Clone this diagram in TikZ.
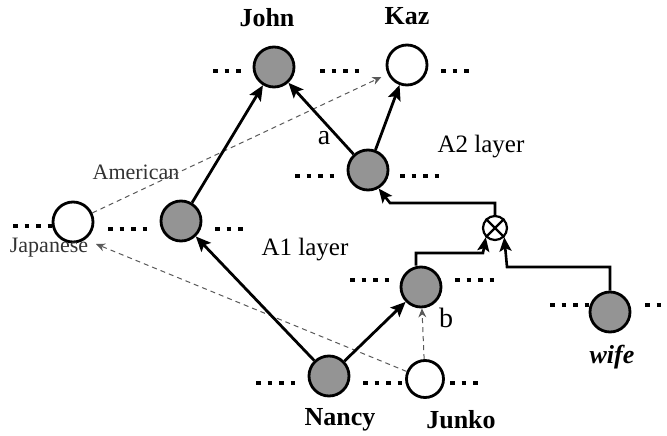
\documentclass[tikz,border=0pt]{standalone}
\usepackage{fontspec}
\setmainfont{Liberation Serif}
\usetikzlibrary{arrows.meta}
\begin{document}
\begin{tikzpicture}[x=1pt,y=-1pt,
  unit/.style={circle,draw=black,line width=2.8pt,minimum size=40pt,inner sep=0pt},
  onunit/.style={unit,fill=black!42},
  offunit/.style={unit,fill=white},
  smallunit/.style={unit,minimum size=37pt},
  arr/.style={line width=2.8pt,-{Stealth[length=15pt,width=13pt,inset=3pt]}},
  hint/.style={line width=1pt,black!65,dash pattern=on 5pt off 4pt,-{Stealth[length=9pt,width=8pt]}},
  ortho/.style={line width=2.6pt,-{Stealth[length=14pt,width=12pt,inset=3pt]}},
  dotrow/.style={line width=4.5pt,dash pattern=on 4.5pt off 7pt},
  namelabel/.style={font=\fontsize{26}{28}\selectfont\bfseries,inner sep=0pt},
  layerlabel/.style={font=\fontsize{25}{28}\selectfont,inner sep=0pt},
  rellabel/.style={font=\fontsize{22}{24}\selectfont,black!80,inner sep=0pt},
  letterlabel/.style={font=\fontsize{28}{30}\selectfont,inner sep=0pt}
]
\useasboundingbox (0,0) rectangle (667,436);

% units
\node[onunit]  (john)  at (274,67)  {};
\node[offunit] (kaz)   at (407,65)  {};
\node[onunit]  (c)     at (368,170) {};
\node[offunit] (jap)   at (73,222)  {};
\node[onunit]  (mid)   at (181,221) {};
\node[onunit]  (b)     at (421,287) {};
\node[onunit]  (nancy) at (329,376) {};
\node[offunit,smallunit] (junko) at (425,379) {};
\node[onunit]  (wife)  at (610,312) {};
\node[circle,draw=black,line width=2.2pt,minimum size=24pt,inner sep=0pt] (ot) at (495,228) {};
\draw[line width=2.2pt] (ot.north east) -- (ot.south west) (ot.north west) -- (ot.south east);

% labels
\node[namelabel] (tjohn)  at (267,18)  {John};
\node[namelabel] (tkaz)   at (407,16)  {Kaz};
\node[namelabel] (tnancy) at (340,420) {Nancy};
\node[namelabel] (tjunko) at (461,420) {Junko};
\node[namelabel,font=\fontsize{26}{28}\selectfont\bfseries\itshape] (twife) at (612,357) {wife};
\node[layerlabel] (ta2) at (481,147) {A2 layer};
\node[layerlabel] (ta1) at (305,250) {A1 layer};
\node[letterlabel] (ta) at (324,138) {a};
\node[letterlabel] (tb) at (446,318) {b};
\node[rellabel] (tam) at (136,172) {American};
\node[rellabel] (tjp) at (49,248) {Japanese};

% dots
\draw[dotrow] (213,71) -- ++(27.5,0);
\draw[dotrow] (320,71) -- ++(39,0);
\draw[dotrow] (441,71) -- ++(27.5,0);
\draw[dotrow] (295,176) -- ++(39,0);
\draw[dotrow] (400,176) -- ++(39,0);
\draw[dotrow] (13,226) -- ++(39,0);
\draw[dotrow] (108,229) -- ++(39,0);
\draw[dotrow] (215,229) -- ++(27.5,0);
\draw[dotrow] (350,280) -- ++(39,0);
\draw[dotrow] (455,280) -- ++(39,0);
\draw[dotrow] (550,305) -- ++(39,0);
\draw[dotrow] (645,305) -- ++(16,0);
\draw[dotrow] (256,383) -- ++(39,0);
\draw[dotrow] (363,383) -- ++(39,0);
\draw[dotrow] (450,383) -- ++(27.5,0);

% dashed relations
\coordinate (japin) at (96,244);
\draw[hint,shorten >=7pt] (jap) -- (kaz);
\draw[hint] (junko) -- (japin);
\draw[hint] (junko) -- (b);

% solid arrows
\draw[arr] (mid) -- (john);
\draw[arr] (c) -- (john);
\draw[arr] (c) -- (kaz);
\draw[arr] (nancy) -- (mid);
\draw[arr] (nancy) -- (b);

% orthogonal connectors
\coordinate (k1) at (483,253);
\coordinate (k2) at (507,267);
\coordinate (k3) at (390,203);
\draw[ortho] ([xshift=-5pt]b.north) |- (k1) -- (ot.south west);
\draw[ortho] (wife.north) |- (k2) -- (ot.south east);
\draw[ortho] (ot.north) |- (k3) -- (c.-60);
\end{tikzpicture}
\end{document}
